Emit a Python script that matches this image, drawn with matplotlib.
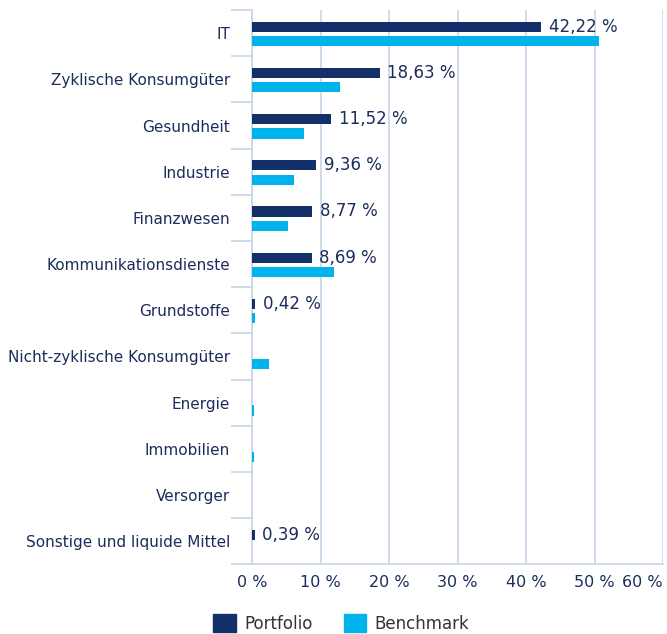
import numpy as np
import matplotlib
matplotlib.use('Agg')
from matplotlib import pyplot as plt
from matplotlib.patches import Patch

categories = ['IT', 'Zyklische Konsumgüter', 'Gesundheit', 'Industrie', 'Finanzwesen',
              'Kommunikationsdienste', 'Grundstoffe', 'Nicht-zyklische Konsumgüter',
              'Energie', 'Immobilien', 'Versorger', 'Sonstige und liquide Mittel']
portfolio = [42.22, 18.63, 11.52, 9.36, 8.77, 8.69, 0.42, 0.0, 0.0, 0.0, 0.0, 0.39]
benchmark = [50.7, 12.8, 7.6, 6.1, 5.3, 12.0, 0.4, 2.5, 0.3, 0.3, 0.05, 0.0]
port_labels = ['42,22 %', '18,63 %', '11,52 %', '9,36 %', '8,77 %', '8,69 %', '0,42 %',
               '', '', '', '', '0,39 %']
xticks = [0, 10, 20, 30, 40, 50, 60]

navy = '#14306b'
cyan = '#00b4eb'
grid = '#c8d5e8'
txt = '#1c2d5c'

fig = plt.figure(figsize=(6.67, 6.34), dpi=100)
ax = fig.add_axes([0.378, 0.110, 0.616, 0.874])

y = np.arange(len(categories))
h = 0.22
ax.barh(y - 0.14, portfolio, height=h, color=navy, zorder=3)
ax.barh(y + 0.17, benchmark, height=h, color=cyan, zorder=3)

for yi, v, lab in zip(y, portfolio, port_labels):
    if lab:
        ax.text(v + 1.1, yi - 0.14, lab, va='center', ha='left', fontsize=12, color=txt, zorder=4)

ax.set_xlim(0, 60)
ax.set_ylim(len(categories) - 0.5, -0.5)
ax.set_xticks(xticks)
ax.set_xticklabels([f'{t} %' for t in xticks], fontsize=11.5, color=txt)
ax.tick_params(axis='x', length=0, pad=8)
lbls = ax.get_xticklabels()
lbls[-1].set_ha('right')
lbls[-1].set_x(60)

ax.set_yticks(y)
ax.set_yticklabels(categories, fontsize=11, color=txt)
ax.tick_params(axis='y', which='major', length=0, pad=16)
ax.set_yticks(np.arange(len(categories) + 1) - 0.5, minor=True)
ax.tick_params(axis='y', which='minor', length=15, color=grid, width=1.2)

ax.xaxis.grid(True, color=grid, linewidth=1.2, zorder=0)
for s in ['top', 'right']:
    ax.spines[s].set_visible(False)
for s in ['left', 'bottom']:
    ax.spines[s].set_color(grid)
    ax.spines[s].set_linewidth(1.2)

handles = [Patch(color=navy, label='Portfolio'), Patch(color=cyan, label='Benchmark')]
leg = fig.legend(handles=handles, loc='lower left', bbox_to_anchor=(0.297, -0.022), ncol=2,
                 frameon=False, fontsize=12, handlelength=1.35, handleheight=1.3,
                 columnspacing=1.9, handletextpad=0.5)
for t in leg.get_texts():
    t.set_color('#333333')

fig.savefig('out.png', dpi=100)
